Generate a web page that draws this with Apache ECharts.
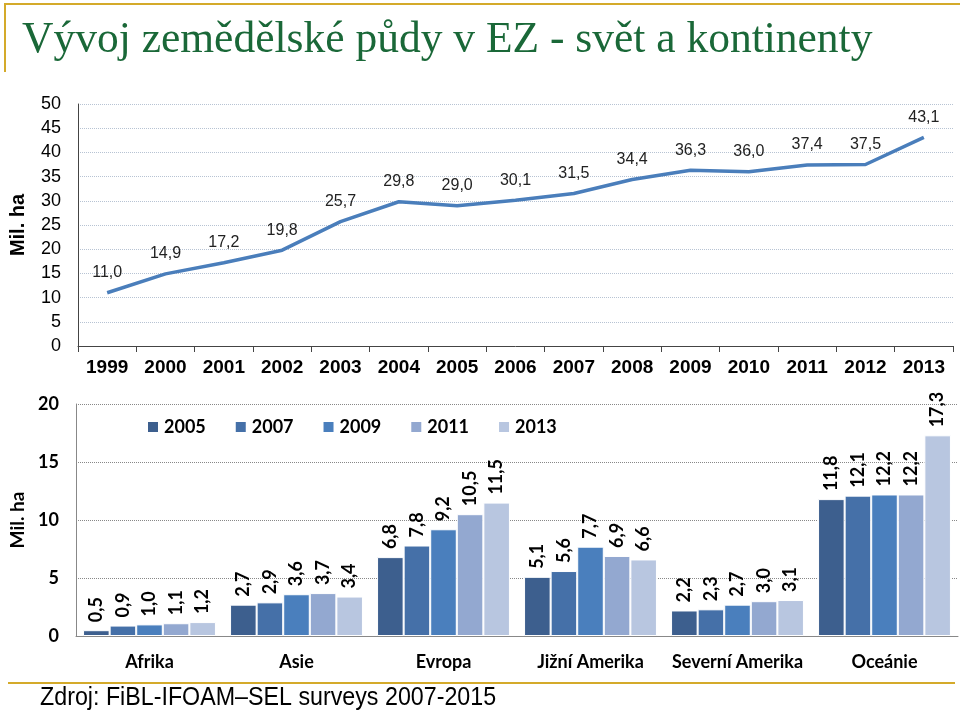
<!DOCTYPE html>
<html>
<head>
<meta charset="utf-8">
<script src="https://cdn.jsdelivr.net/npm/echarts@6/dist/echarts.min.js"></script>
<style>
html,body{margin:0;padding:0;background:#fff;}
#chart{width:960px;height:715px;}
</style>
</head>
<body>
<div id="chart"></div>
<script>
// ---- Data ----
var years = ['1999','2000','2001','2002','2003','2004','2005','2006','2007','2008','2009','2010','2011','2012','2013'];
var worldArea = [11.0,14.9,17.2,19.8,25.7,29.8,29.0,30.1,31.5,34.4,36.3,36.0,37.4,37.5,43.1];

var continents = ['Afrika','Asie','Evropa','Jižní Amerika','Severní Amerika','Oceánie'];
var seriesYears = ['2005','2007','2009','2011','2013'];
var v2005 = [0.5,2.7,6.8,5.1,2.2,11.8];
var v2007 = [0.9,2.9,7.8,5.6,2.3,12.1];
var v2009 = [1.0,3.6,9.2,7.7,2.7,12.2];
var v2011 = [1.1,3.7,10.5,6.9,3.0,12.2];
var v2013 = [1.2,3.4,11.5,6.6,3.1,17.3];
var barData = [v2005,v2007,v2009,v2011,v2013];
var barColors = ['#3d5f8e','#4570a8','#4a7fbd','#93a8d0','#b8c6e0'];

var titleText = 'Vývoj zemědělské půdy v EZ - svět a kontinenty';
var sourceText = 'Zdroj: FiBL-IFOAM–SEL surveys 2007-2015';

function comma(v){ return v.toFixed(1).replace('.', ','); }

var chart = echarts.init(document.getElementById('chart'));

var barSeries = seriesYears.map(function(y, i){
  return {
    name: y,
    type: 'bar',
    xAxisIndex: 1, yAxisIndex: 1,
    data: barData[i],
    barGap: '0%',
    barCategoryGap: '9.6%',
    itemStyle: { color: barColors[i], borderColor: '#ffffff', borderWidth: 1 },
    label: {
      show: true, position: 'top', rotate: 90, align: 'left', verticalAlign: 'middle',
      distance: 8,
      fontFamily: 'Lato', fontWeight: 'bold', fontSize: 18, color: '#000',
      formatter: function(p){ return comma(p.value); }
    }
  };
});

var option = {
  animation: false,
  backgroundColor: '#ffffff',
  graphic: [
    { type: 'line', shape: { x1: 4, y1: 4, x2: 960, y2: 4 }, style: { stroke: '#d4aa2a', lineWidth: 2 } },
    { type: 'line', shape: { x1: 5, y1: 4, x2: 5, y2: 72 }, style: { stroke: '#d4aa2a', lineWidth: 2 } },
    { type: 'line', shape: { x1: 8, y1: 683, x2: 955, y2: 683 }, style: { stroke: '#d4aa2a', lineWidth: 2 } },
    { type: 'text', x: 22, y: 19, style: { text: titleText, font: '43.5px "Liberation Serif", "Times New Roman", serif', fill: '#1a6838' } },
    { type: 'text', x: 40, y: 686, scaleX: 0.93, style: { text: sourceText, font: '25px "Liberation Sans", Arial, sans-serif', fill: '#000' } }
  ],
  legend: {
    data: seriesYears,
    left: 141, top: 413,
    itemWidth: 12, itemHeight: 12, itemGap: 28,
    icon: 'rect',
    textStyle: { fontFamily: 'Lato', fontWeight: 'bold', fontSize: 18, color: '#000' }
  },
  grid: [
    { left: 77, right: 7, top: 104, bottom: 369 },
    { left: 75, right: 2, top: 404, bottom: 79 }
  ],
  xAxis: [
    {
      type: 'category', gridIndex: 0, data: years, boundaryGap: true,
      axisLine: { lineStyle: { color: '#444', width: 1 } },
      axisTick: { show: true, length: 6, lineStyle: { color: '#444' } },
      axisLabel: { interval: 0, fontFamily: 'Liberation Sans', fontWeight: 'bold', fontSize: 19, color: '#000', margin: 12 }
    },
    {
      type: 'category', gridIndex: 1, data: continents,
      axisLine: { lineStyle: { color: '#888', width: 1 } },
      axisTick: { show: false },
      axisLabel: { interval: 0, fontFamily: 'Lato', fontWeight: 'bold', fontSize: 18, color: '#000', margin: 17 }
    }
  ],
  yAxis: [
    {
      type: 'value', gridIndex: 0, min: 0, max: 50, interval: 5,
      name: 'Mil. ha', nameLocation: 'middle', nameGap: 50, nameRotate: 90,
      nameTextStyle: { fontFamily: 'Liberation Sans', fontWeight: 'bold', fontSize: 20, color: '#000' },
      axisLine: { show: true, lineStyle: { color: '#444' } },
      axisTick: { show: false },
      axisLabel: { fontFamily: 'Liberation Sans', fontSize: 18, color: '#000', margin: 17 },
      splitLine: { lineStyle: { color: '#b7c3d3', type: 'dotted', width: 1 } }
    },
    {
      type: 'value', gridIndex: 1, min: 0, max: 20, interval: 5,
      name: 'Mil. ha', nameLocation: 'middle', nameGap: 49, nameRotate: 90,
      nameTextStyle: { fontFamily: 'Lato', fontWeight: 'bold', fontSize: 19, color: '#000' },
      axisLine: { show: true, lineStyle: { color: '#888' } },
      axisTick: { show: false },
      axisLabel: { fontFamily: 'Lato', fontWeight: 'bold', fontSize: 18, color: '#000', margin: 17 },
      splitLine: { lineStyle: { color: '#888', type: 'dotted', width: 1 } }
    }
  ],
  series: [
    {
      name: 'Svět', type: 'line', xAxisIndex: 0, yAxisIndex: 0,
      data: worldArea,
      symbol: 'circle', symbolSize: 0.1, showSymbol: true,
      itemStyle: { color: '#4a7ebb' },
      lineStyle: { color: '#4a7ebb', width: 3.5 },
      label: {
        show: true, position: 'top', distance: 12,
        fontFamily: 'Liberation Sans', fontSize: 16, color: '#222',
        formatter: function(p){ return comma(p.value); }
      }
    }
  ].concat(barSeries)
};
chart.setOption(option);
</script>
</body>
</html>
